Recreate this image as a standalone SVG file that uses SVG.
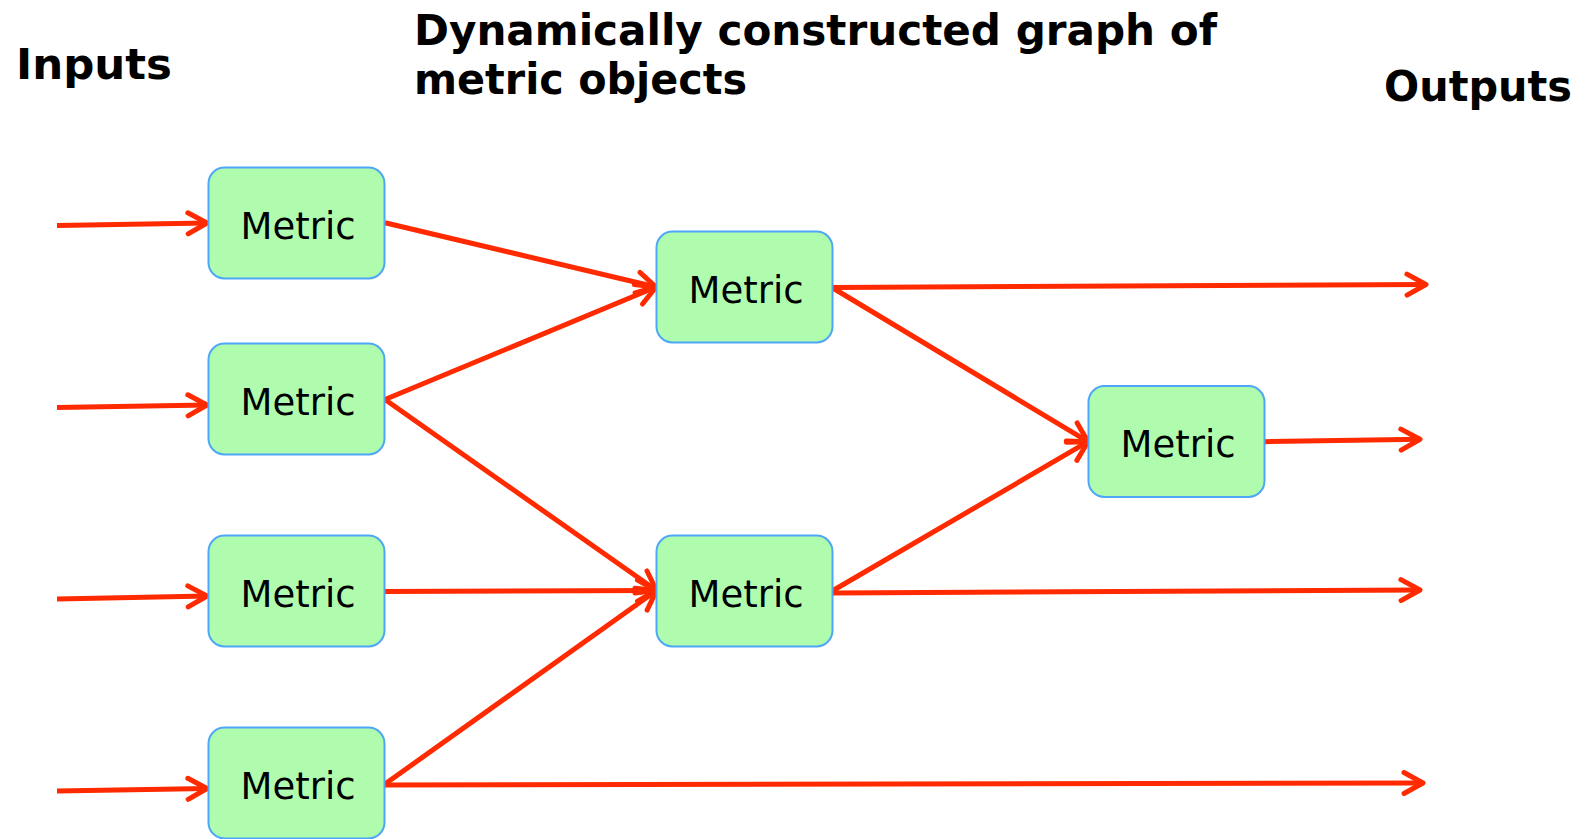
<svg xmlns="http://www.w3.org/2000/svg" width="1585" height="839" viewBox="0 0 1585 839">
<defs>
<style>
.title{font-family:"DejaVu Sans","Verdana",sans-serif;font-weight:bold;fill:#000}
.box{fill:#AFFCAE;stroke:#4DA6F7;stroke-width:2}
.lbl{font-family:"DejaVu Sans","Verdana",sans-serif;font-size:37px;fill:#000;text-anchor:middle}
.cn{fill:none;stroke:#FF2A00;stroke-width:5;marker-end:url(#ah)}
</style>
<marker id="ah" markerUnits="userSpaceOnUse" viewBox="-26 -15 30 30" refX="0" refY="0" markerWidth="30" markerHeight="30" orient="auto" overflow="visible">
<path d="M-19,-10.5 L0,0 L-19,10.5" fill="none" stroke="#FF2A00" stroke-width="5" stroke-linecap="round" stroke-linejoin="round"/>
</marker>
</defs>
<rect width="1585" height="839" fill="#fff"/>
<g id="titles">
<text class="title" x="16" y="79" font-size="43" textLength="156" lengthAdjust="spacingAndGlyphs">Inputs</text>
<text class="title" x="414" y="44.5" font-size="42" textLength="803" lengthAdjust="spacingAndGlyphs">Dynamically constructed graph of</text>
<text class="title" x="414" y="93.5" font-size="42" textLength="333" lengthAdjust="spacingAndGlyphs">metric objects</text>
<text class="title" x="1384" y="101" font-size="42" textLength="188" lengthAdjust="spacingAndGlyphs">Outputs</text>
</g>
<g id="connectors">
<line class="cn" x1="57" y1="225.5" x2="207" y2="223"/>
<line class="cn" x1="57" y1="407.5" x2="207" y2="405"/>
<line class="cn" x1="57" y1="599" x2="207" y2="596"/>
<line class="cn" x1="57" y1="791" x2="207" y2="788.5"/>
<line class="cn" x1="385" y1="222.7" x2="656" y2="287"/>
<line class="cn" x1="385" y1="399.5" x2="656" y2="287"/>
<line class="cn" x1="385" y1="399.5" x2="656.5" y2="590.5"/>
<line class="cn" x1="385" y1="591.5" x2="656.5" y2="590.5"/>
<line class="cn" x1="385" y1="784" x2="656.5" y2="590.5"/>
<line class="cn" x1="385" y1="785" x2="1423" y2="783"/>
<line class="cn" x1="832" y1="287.5" x2="1426" y2="284.5"/>
<line class="cn" x1="832" y1="287.5" x2="1088" y2="441.7"/>
<line class="cn" x1="833" y1="590.5" x2="1088" y2="441.7"/>
<line class="cn" x1="833" y1="593" x2="1420" y2="590"/>
<line class="cn" x1="1264" y1="441.7" x2="1420" y2="439.3"/>
</g>
<g id="n1"><rect class="box" x="208.5" y="167.5" width="176" height="111" rx="16"/><text class="lbl" x="298" y="238.5">Metric</text></g>
<g id="n2"><rect class="box" x="208.5" y="343.5" width="176" height="111" rx="16"/><text class="lbl" x="298" y="414.5">Metric</text></g>
<g id="n3"><rect class="box" x="208.5" y="535.5" width="176" height="111" rx="16"/><text class="lbl" x="298" y="606.5">Metric</text></g>
<g id="n4"><rect class="box" x="208.5" y="727.5" width="176" height="111" rx="16"/><text class="lbl" x="298" y="798.5">Metric</text></g>
<g id="n5"><rect class="box" x="656.5" y="231.5" width="176" height="111" rx="16"/><text class="lbl" x="746" y="302.5">Metric</text></g>
<g id="n6"><rect class="box" x="656.5" y="535.5" width="176" height="111" rx="16"/><text class="lbl" x="746" y="606.5">Metric</text></g>
<g id="n7"><rect class="box" x="1088.5" y="386" width="176" height="111" rx="16"/><text class="lbl" x="1178" y="457">Metric</text></g>
</svg>
